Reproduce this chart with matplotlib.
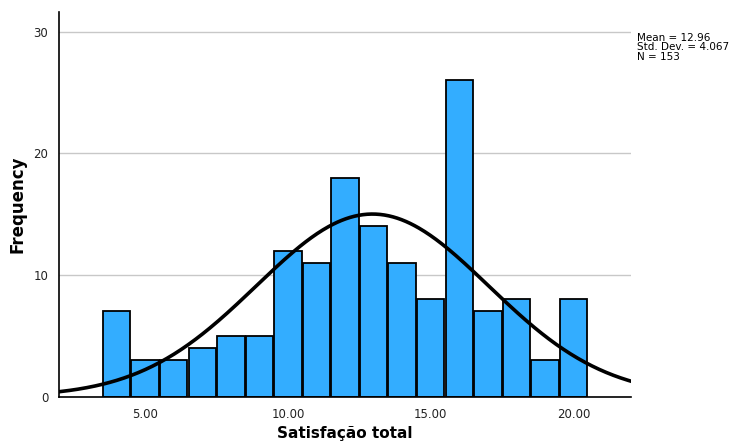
import numpy as np
import matplotlib.pyplot as plt

# histogram of total satisfaction scores (bin centres and counts)
score_bins = [4, 5, 6, 7, 8, 9, 10, 11, 12, 13, 14, 15, 16, 17, 18, 19, 20]
counts = [7, 3, 3, 4, 5, 5, 12, 11, 18, 14, 11, 8, 26, 7, 8, 3, 8]
mean_val = 12.96
std_val = 4.067
n_total = 153

fig = plt.figure(figsize=(7.29, 4.41), dpi=100)
ax = fig.add_axes([0.0816, 0.1009, 0.7834, 0.8711])

ax.set_xlim(2, 22)
ax.set_ylim(0, 31.6)
ax.set_yticks([0, 10, 20, 30])
ax.set_xticks([5, 10, 15, 20])
ax.set_xticklabels(["5.00", "10.00", "15.00", "20.00"])

ax.grid(axis="y", color="#c8c8c8", linewidth=1)
ax.set_axisbelow(True)

ax.bar(score_bins, counts, width=0.96, color="#33adff",
       edgecolor="black", linewidth=1.3, zorder=2)

# fitted normal curve scaled to the counts (bin width 1)
xs = np.linspace(2, 22, 400)
ys = n_total / (std_val * np.sqrt(2 * np.pi)) * np.exp(-0.5 * ((xs - mean_val) / std_val) ** 2)
ax.plot(xs, ys, color="black", linewidth=2.6, zorder=3)

for side in ["top", "right"]:
    ax.spines[side].set_visible(False)
ax.spines["left"].set_linewidth(1.2)
ax.spines["bottom"].set_linewidth(1.2)
ax.tick_params(length=0, labelsize=8.5, colors="#222222", pad=8)

ax.set_xlabel("Satisfação total", fontsize=11, fontweight="bold")
ax.set_ylabel("Frequency", fontsize=12, fontweight="bold")
ax.xaxis.set_label_coords(0.5, -0.108)
ax.yaxis.set_label_coords(-0.073, 0.5)
ax.xaxis.label.set_va("baseline")
ax.yaxis.label.set_va("center")

fig.text(0.874, 0.926, f"Mean = {mean_val}\nStd. Dev. = {std_val}\nN = {n_total}",
         fontsize=7.5, va="top", ha="left", linespacing=0.95)

fig.savefig("out.png", dpi=100)
